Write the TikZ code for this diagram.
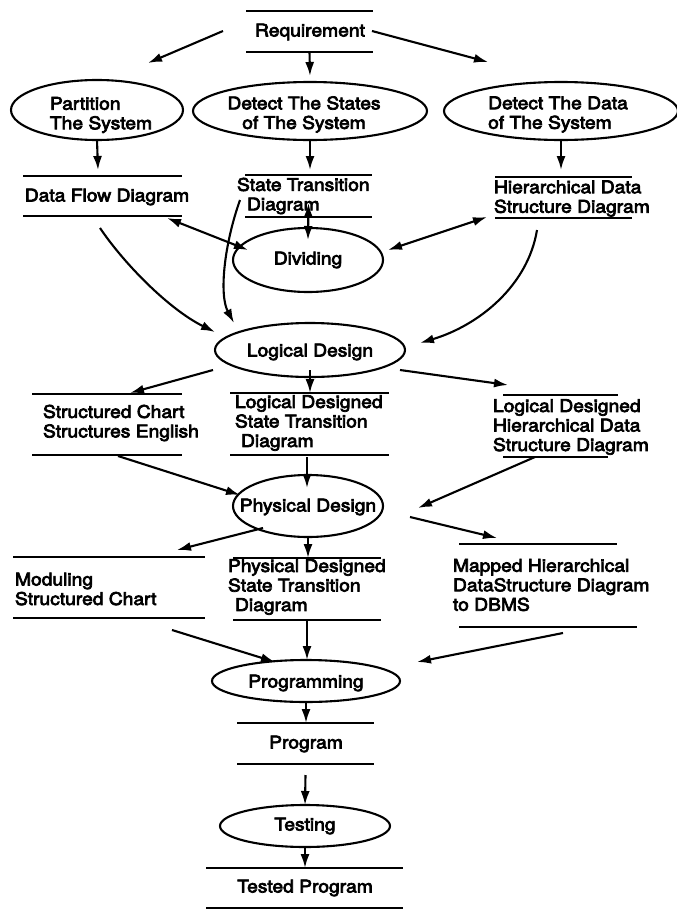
\documentclass[tikz,border=0pt]{standalone}
\usepackage{fontspec}
\setmainfont{TeX Gyre Heros}[FakeStretch=1.1,FakeBold=4]
\usetikzlibrary{arrows.meta,shapes.geometric}
\begin{document}
\begin{tikzpicture}[x=1pt,y=-1pt,
  every node/.style={font=\fontsize{17.5}{19.5}\selectfont, inner sep=0pt, outer sep=0pt},
  proc/.style={draw, ellipse, line width=2.1pt, inner sep=0pt},
  arr/.style={line width=2.1pt, -{Latex[length=14pt,width=9pt]}},
  darr/.style={line width=2.1pt, {Latex[length=14pt,width=9pt]}-{Latex[length=14pt,width=9pt]}},
  stline/.style={line width=2.1pt},
  storebox/.style={draw=none, rectangle, inner sep=0pt},
  txt/.style={align=left, anchor=west}
]
\useasboundingbox (0,0) rectangle (677,910);

% ---------- processes (ellipses) ----------
\node[proc, minimum width=172pt, minimum height=60pt] (part) at (97,110) {};
\node[proc, minimum width=234pt, minimum height=58pt] (dst) at (310,111) {};
\node[proc, minimum width=234pt, minimum height=58pt] (dda) at (561,111) {};
\node[proc, minimum width=150pt, minimum height=64pt] (div) at (308,260) {};
\node[proc, minimum width=190pt, minimum height=54pt] (ld) at (310,350) {};
\node[proc, minimum width=150pt, minimum height=62pt] (pd) at (308,506) {};
\node[proc, minimum width=188pt, minimum height=42pt] (pgm) at (306,681) {};
\node[proc, minimum width=170pt, minimum height=42pt] (tst) at (305,826) {};

\node (partT) at (101,115) [align=left] {Partition\\The System};
\node (dstT) at (304,114.5) [align=center] {Detect The States\\of The System};
\node (ddaT) at (558,114.5) [align=left] {Detect The Data\\of The System};
\node (divT) at (308,260) {Dividing};
\node (ldT) at (310,352) {Logical Design};
\node (pdT) at (308,507) {Physical Design};
\node (pgmT) at (306,683) {Programming};
\node (tstT) at (305,826) {Testing};

% ---------- data stores ----------
\node[storebox, minimum width=127pt, minimum height=41pt] (req) at (309.5,31.5) {};
\node[storebox, minimum width=159pt, minimum height=40pt] (dfd) at (102.5,196) {};
\node[storebox, minimum width=127pt, minimum height=42pt] (stt) at (308.5,196) {};
\node[storebox, minimum width=137pt, minimum height=41pt] (hds) at (563.5,197.5) {};
\node[storebox, minimum width=150pt, minimum height=61pt] (sce) at (107,424.5) {};
\node[storebox, minimum width=159pt, minimum height=62pt] (lds) at (309.5,424) {};
\node[storebox, minimum width=115pt, minimum height=62pt] (ldh) at (560.5,426) {};
\node[storebox, minimum width=192pt, minimum height=61pt] (mod) at (109,587.5) {};
\node[storebox, minimum width=148pt, minimum height=62pt] (pds) at (307,589) {};
\node[storebox, minimum width=178pt, minimum height=83pt] (map) at (548,585.5) {};
\node[storebox, minimum width=137pt, minimum height=41pt] (prog) at (305.5,743.5) {};
\node[storebox, minimum width=197pt, minimum height=40pt] (tested) at (304.5,888) {};

\foreach \s in {req,dfd,stt,hds,sce,lds,mod,pds,prog,tested}{
  \draw[stline] (\s.north west) -- (\s.north east);
  \draw[stline] (\s.south west) -- (\s.south east);
}
\draw[stline] (ldh.north west) -- (ldh.north east);
\draw[stline] (ldh.south west) -- ([xshift=-10pt]ldh.south east);
\draw[stline] (map.north west) -- ([xshift=-20pt]map.north east);
\draw[stline] (map.south west) -- (map.south east);

\node (reqT) at (310,32) {Requirement};
\node (dfdT) at (107,197) {Data Flow Diagram};
\node[txt] (sttT) at (237,196) {State Transition\\\hspace*{10pt}Diagram};
\node[txt] (hdsT) at (494,198.5) {Hierarchical Data\\Structure Diagram};
\node[txt] (sceT) at (43,423) {Structured Chart\\Structures English};
\node[txt] (ldsT) at (235,423) {Logical Designed\\State Transition\\\hspace*{6pt}Diagram};
\node[txt] (ldhT) at (493,427) {Logical Designed\\Hierarchical Data\\Structure Diagram};
\node[txt] (modT) at (15,589) {Moduling\\Structured Chart};
\node[txt] (pdsT) at (228,587) {Physical Designed\\State Transition\\\hspace*{7pt}Diagram};
\node[txt] (mapT) at (453,585) {Mapped Hierarchical\\DataStructure Diagram\\to DBMS};
\node (progT) at (306,744) {Program};
\node (testedT) at (305,888) {Tested Program};

% ---------- connectors ----------
\draw[arr] ([shift={(-86.5,-0.5)}]req.center) -- ([shift={(51,-47)}]part.center);
\draw[arr] (req.south) -- ([shift={(0,-35)}]dst.center);
\draw[arr] ([shift={(62.5,-0.5)}]req.center) -- ([shift={(-73,-49)}]dda.center);

\draw[arr] (part.south) -- ([shift={(-4.5,-6)}]dfd.north);
\draw[arr] (dst.south) -- ([shift={(1.5,-5)}]stt.north);
\draw[arr] (dda.south) -- ([shift={(-2.5,-7)}]hds.north);

\draw[darr] ([shift={(-15,2)}]dfd.south east) -- ([shift={(-60,-10)}]div.center);
\draw[darr] ([shift={(0,-14)}]stt.south) -- ([shift={(0,-20)}]div.center);
\draw[darr] ([shift={(-8,-1)}]hds.south west) -- ([shift={(80,-10)}]div.center);

\draw[arr] ([shift={(-2.5,12)}]dfd.south) .. controls (125,265) and (170,310) .. ([shift={(-95,-18)}]ld.center);
\draw[arr] ([shift={(-5,-17)}]stt.south west) .. controls (224,245) and (219,295) .. ([shift={(-76,-27)}]ld.center);
\draw[arr] ([shift={(-26.5,12)}]hds.south) .. controls (528,285) and (480,325) .. ([shift={(110,-7)}]ld.center);

\draw[arr] ([shift={(-97,20)}]ld.center) -- ([shift={(23,-1)}]sce.north);
\draw[arr] ([shift={(0,20)}]ld.center) -- (ld.center |- lds.north);
\draw[arr] ([shift={(90,20)}]ld.center) -- ([shift={(5,-10)}]ldh.north west);

\draw[arr] ([shift={(11,1)}]sce.south) -- ([shift={(-68,-11)}]pd.center);
\draw[arr] ([shift={(-2.5,2)}]lds.south) -- ([shift={(-1,-18)}]pd.center);
\draw[arr] ([shift={(32,0)}]ldh.south west) -- ([shift={(110,2)}]pd.center);

\draw[arr] ([shift={(-45,22)}]pd.center) -- ([shift={(68,-7)}]mod.north);
\draw[arr] (pd.south) -- (pd.south |- pds.north);
\draw[arr] ([shift={(102,11)}]pd.center) -- ([shift={(38,-6)}]map.north west);

\draw[arr] ([shift={(63,12)}]mod.south) -- ([shift={(-31,-19)}]pgm.center);
\draw[arr] (pds.south) -- (pds.south |- pgm.north);
\draw[arr] ([shift={(15,6)}]map.south) -- ([shift={(111,-19)}]pgm.center);

\draw[arr] (pgm.south) -- (pgm.south |- prog.north);
\draw[arr] ([shift={(0,11)}]prog.south) -- (tst.north);
\draw[arr] (tst.south) -- (tst.south |- tested.north);
\end{tikzpicture}
\end{document}
